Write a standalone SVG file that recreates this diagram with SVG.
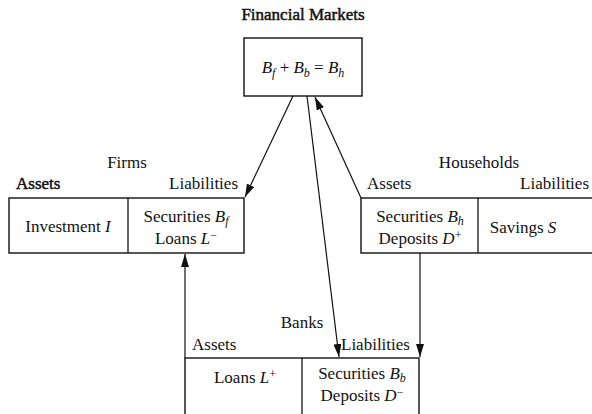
<svg xmlns="http://www.w3.org/2000/svg" width="592" height="414" viewBox="0 0 592 414">
<style>
text{font-family:"Liberation Serif","Times New Roman",serif;font-size:17px;fill:#111}
.m{text-anchor:middle}
.e{text-anchor:end}
.i{font-style:italic}
.h{stroke:#111;stroke-width:0.5}
.box{fill:#fff;stroke:#111;stroke-width:1.4}
.ln{stroke:#111;stroke-width:1.3;fill:none}
.c{stroke:#111;stroke-width:1.2;fill:none;marker-end:url(#ah)}
</style>
<defs>
<marker id="ah" markerUnits="userSpaceOnUse" markerWidth="14" markerHeight="8" refX="13" refY="4" orient="auto">
<path d="M0,0 L13,4 L0,8 z" fill="#111"/>
</marker>
</defs>
<rect width="592" height="414" fill="#fff"/>
<g id="markets">
<text class="m h" x="303" y="20" font-size="16">Financial Markets</text>
<rect class="box" x="244" y="38" width="118" height="58"/>
<text class="m" x="303" y="73" font-size="18"><tspan class="i">B</tspan><tspan class="i" font-size="12" dy="4">f</tspan><tspan dy="-4"> + </tspan><tspan class="i">B</tspan><tspan class="i" font-size="12" dy="4">b</tspan><tspan dy="-4"> = </tspan><tspan class="i">B</tspan><tspan class="i" font-size="12" dy="4">h</tspan></text>
</g>
<g id="firms">
<text class="m" x="127" y="168">Firms</text>
<text class="h" x="16" y="189">Assets</text>
<text class="e" x="238" y="189">Liabilities</text>
<rect class="box" x="9" y="198" width="235" height="55"/>
<line class="ln" x1="128" y1="198" x2="128" y2="253"/>
<text class="m" x="68" y="232">Investment <tspan class="i">I</tspan></text>
<text class="m" x="186" y="222">Securities <tspan class="i">B</tspan><tspan class="i" font-size="12" dy="3">f</tspan></text>
<text class="m" x="186" y="244">Loans <tspan class="i">L</tspan><tspan font-size="12" dy="-5">−</tspan></text>
</g>
<g id="households">
<text class="m" x="479" y="168">Households</text>
<text x="367" y="189">Assets</text>
<text class="e" x="589" y="189">Liabilities</text>
<rect class="box" x="361" y="198" width="240" height="55"/>
<line class="ln" x1="478" y1="198" x2="478" y2="253"/>
<text class="m" x="420" y="222">Securities <tspan class="i">B</tspan><tspan class="i" font-size="12" dy="3">h</tspan></text>
<text class="m" x="420" y="244">Deposits <tspan class="i">D</tspan><tspan font-size="12" dy="-5">+</tspan></text>
<text class="m" x="523" y="233">Savings <tspan class="i">S</tspan></text>
</g>
<g id="banks">
<text class="m" x="302" y="328">Banks</text>
<text x="192" y="350">Assets</text>
<text x="341" y="350">Liabilities</text>
<rect class="box" x="185" y="358" width="234" height="70"/>
<line class="ln" x1="302" y1="358" x2="302" y2="414"/>
<text class="m" x="245" y="383">Loans <tspan class="i">L</tspan><tspan font-size="12" dy="-5">+</tspan></text>
<text class="m" x="362" y="379">Securities <tspan class="i">B</tspan><tspan class="i" font-size="12" dy="3">b</tspan></text>
<text class="m" x="362" y="401">Deposits <tspan class="i">D</tspan><tspan font-size="12" dy="-5">−</tspan></text>
</g>
<g id="connectors">
<line class="c" x1="293" y1="96" x2="245" y2="197"/>
<line class="c" x1="185" y1="358" x2="185" y2="254"/>
<line class="c" x1="307" y1="96" x2="339" y2="357"/>
<line class="c" x1="361" y1="198" x2="315" y2="97"/>
<line class="c" x1="420" y1="253" x2="420" y2="357"/>
</g>
</svg>
